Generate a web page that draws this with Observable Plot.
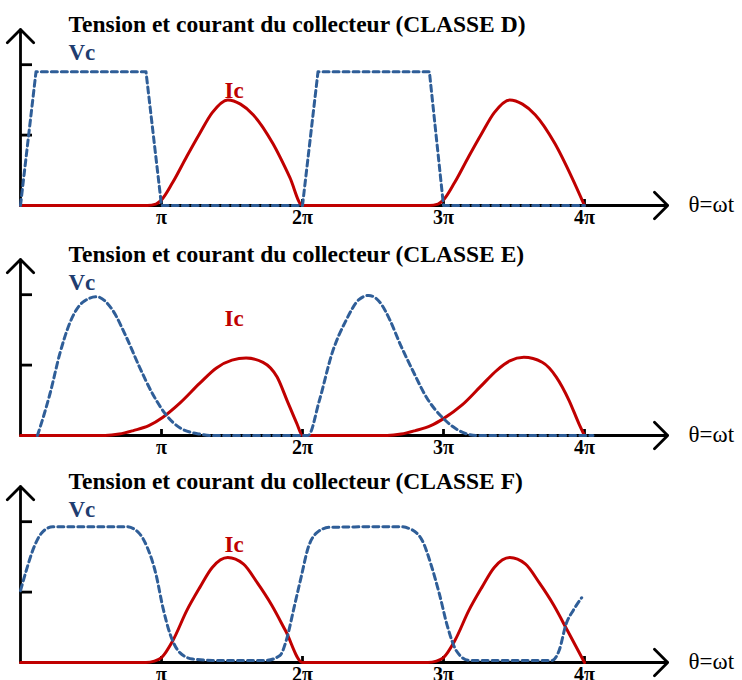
<!DOCTYPE html>
<html><head><meta charset="utf-8">
<script src="https://cdn.jsdelivr.net/npm/d3@7"></script>
<script src="https://cdn.jsdelivr.net/npm/@observablehq/plot@0.6"></script>
<style>
body{margin:0;background:#fff;overflow:hidden}
#wrap{position:relative;width:742px;height:680px;overflow:hidden}
#wrap svg{position:absolute;left:0;overflow:visible}
</style></head><body><div id="wrap"></div>
<script>
// x in units of π, y in units of the lower y tick
const xTicks = [1, 2, 3, 4];
const xTickLabels = ["π", "2π", "3π", "4π"];
const yTicks = [1, 2];
const axisLabel = "θ=ωt";
const titles = [
  "Tension et courant du collecteur (CLASSE D)",
  "Tension et courant du collecteur (CLASSE E)",
  "Tension et courant du collecteur (CLASSE F)"
];
const seriesNames = ["Vc", "Ic"];

// CLASSE D
const vcD = [[0,0],[0.11,1.9],[0.89,1.9],[1.0,0],[2.0,0],[2.11,1.9],[2.90,1.9],[3.0,0],[4.0,0]];
const icD = [[0,0],[0.90,0],[0.96,0.02],[1.00,0.08],[1.08,0.33],[1.18,0.70],[1.27,1.02],[1.36,1.32],[1.47,1.50],[1.56,1.44],[1.65,1.29],[1.79,0.88],[1.91,0.40],[2.00,0],
             [2.90,0],[2.96,0.02],[3.00,0.08],[3.08,0.33],[3.18,0.70],[3.27,1.02],[3.36,1.32],[3.47,1.50],[3.56,1.44],[3.65,1.29],[3.79,0.88],[3.91,0.40],[4.00,0]];
// CLASSE E
const vcE = [[0.12,0],[0.16,0.25],[0.21,0.6],[0.28,1.17],[0.35,1.6],[0.44,1.89],[0.54,1.97],[0.65,1.79],[0.75,1.4],[0.84,0.99],[0.94,0.58],[1.03,0.30],[1.13,0.11],[1.27,0.02],[1.36,0],
             [2.04,0],[2.12,0.5],[2.21,1.17],[2.31,1.64],[2.40,1.93],[2.47,1.99],[2.55,1.89],[2.62,1.64],[2.69,1.31],[2.78,0.93],[2.88,0.54],[3.0,0.24],[3.11,0.07],[3.23,0],[4.06,0]];
const icE = [[0,0],[0.6,0],[0.7,0.02],[0.8,0.07],[0.91,0.14],[1.01,0.26],[1.13,0.46],[1.27,0.74],[1.39,0.96],[1.5,1.07],[1.6,1.1],[1.72,1.04],[1.82,0.83],[1.89,0.5],[1.96,0.17],[2.0,0],
             [2.6,0],[2.7,0.02],[2.8,0.07],[2.91,0.14],[3.0,0.24],[3.13,0.43],[3.26,0.69],[3.38,0.93],[3.47,1.06],[3.57,1.11],[3.70,1.04],[3.80,0.83],[3.89,0.5],[3.96,0.17],[4.0,0]];
// CLASSE F
const vcF = [[0,1.02],[0.04,1.3],[0.09,1.61],[0.15,1.84],[0.23,1.93],[0.75,1.93],[0.84,1.84],[0.90,1.63],[0.96,1.26],[1.01,0.78],[1.06,0.41],[1.13,0.14],[1.22,0.05],[1.36,0.03],
             [1.74,0.03],[1.84,0.10],[1.89,0.35],[1.94,0.78],[1.99,1.21],[2.04,1.63],[2.10,1.84],[2.19,1.92],[2.69,1.93],[2.76,1.90],[2.85,1.73],[2.91,1.40],[2.97,0.98],[3.03,0.50],[3.09,0.17],[3.18,0.03],
             [3.77,0.03],[3.82,0.17],[3.87,0.55],[3.92,0.74],[3.98,0.92]];
const icF = [[0,0],[0.89,0],[0.95,0.02],[1.0,0.07],[1.08,0.31],[1.18,0.74],[1.27,1.06],[1.36,1.35],[1.47,1.49],[1.58,1.40],[1.68,1.13],[1.78,0.82],[1.88,0.45],[2.0,0],
             [2.89,0],[2.95,0.02],[3.0,0.07],[3.08,0.31],[3.18,0.74],[3.27,1.06],[3.36,1.35],[3.47,1.49],[3.58,1.40],[3.68,1.13],[3.78,0.82],[3.88,0.45],[4.0,0]];

// axis extents (x in π, y in tick units)
const xAxisArrow = [{x1: 0, y1: 0, x2: 4.59, y2: 0}];
const yAxisArrow = [{x1: 0, y1: 0, x2: 0, y2: 2.5}];

const panels = [
  {title: titles[0], vc: vcD, ic: icD, vcCurve: "linear", icDy: -108, top: 0},
  {title: titles[1], vc: vcE, ic: icE, vcCurve: "monotone-x", icDy: -110, top: 230},
  {title: titles[2], vc: vcF, ic: icF, vcCurve: "monotone-x", icDy: -111, top: 457}
];

const SERIF = "Liberation Serif, Times New Roman, serif";
const BLUE = "#2F5E98", BLUE_TXT = "#1F3D70", RED = "#C00000";

const wrap = document.getElementById("wrap");
for (const p of panels) {
  const svg = Plot.plot({
    width: 742, height: 230,
    marginLeft: 20, marginRight: 158, marginTop: 29, marginBottom: 25,
    x: {domain: [0, 4], axis: null},
    y: {domain: [0, 2.5], axis: null},
    style: {background: "transparent", overflow: "visible"},
    marks: [
      Plot.arrow(xAxisArrow, {x1: "x1", y1: "y1", x2: "x2", y2: "y2", stroke: "black", strokeWidth: 2.8, headLength: 10, headAngle: 90}),
      Plot.arrow(yAxisArrow, {x1: "x1", y1: "y1", x2: "x2", y2: "y2", stroke: "black", strokeWidth: 2.8, headLength: 10, headAngle: 90}),
      Plot.ruleY(yTicks, {y: d => d, x1: 0, x2: 0, insetRight: -12, stroke: "black", strokeWidth: 2.8}),
      Plot.ruleX(xTicks, {x: d => d, y1: 0, y2: 0, insetTop: -6, stroke: "black", strokeWidth: 2.8}),
      Plot.axisX(xTicks, {tickSize: 0, tickPadding: 4, label: null,
        tickFormat: d => xTickLabels[xTicks.indexOf(d)],
        fontSize: 20, fontWeight: "bold", fontFamily: SERIF, fill: "black"}),
      Plot.line(p.ic, {x: d => d[0], y: d => d[1], stroke: RED, strokeWidth: 3, curve: "monotone-x"}),
      Plot.line(p.vc, {x: d => d[0], y: d => d[1], stroke: BLUE, strokeWidth: 3, strokeDasharray: "6,4", curve: p.vcCurve}),
      Plot.text([p.title], {text: d => d, frameAnchor: "bottom-left", dx: 48, dy: -174, lineAnchor: "bottom", textAnchor: "start",
        fontSize: 23.5, fontWeight: "bold", fontFamily: SERIF, fill: "black"}),
      Plot.text([seriesNames[0]], {text: d => d, frameAnchor: "bottom-left", dx: 48, dy: -146, lineAnchor: "bottom", textAnchor: "start",
        fontSize: 23, fontWeight: "bold", fontFamily: SERIF, fill: BLUE_TXT}),
      Plot.text([seriesNames[1]], {text: d => d, frameAnchor: "bottom-left", dx: 204, dy: p.icDy, lineAnchor: "bottom", textAnchor: "start",
        fontSize: 23, fontWeight: "bold", fontFamily: SERIF, fill: RED}),
      Plot.text([axisLabel], {text: d => d, frameAnchor: "bottom-right", dx: 104, dy: 6, lineAnchor: "bottom", textAnchor: "start",
        fontSize: 23, fontFamily: SERIF, fill: "black"})
    ]
  });
  svg.style.top = p.top + "px";
  wrap.appendChild(svg);
}
</script></body></html>
